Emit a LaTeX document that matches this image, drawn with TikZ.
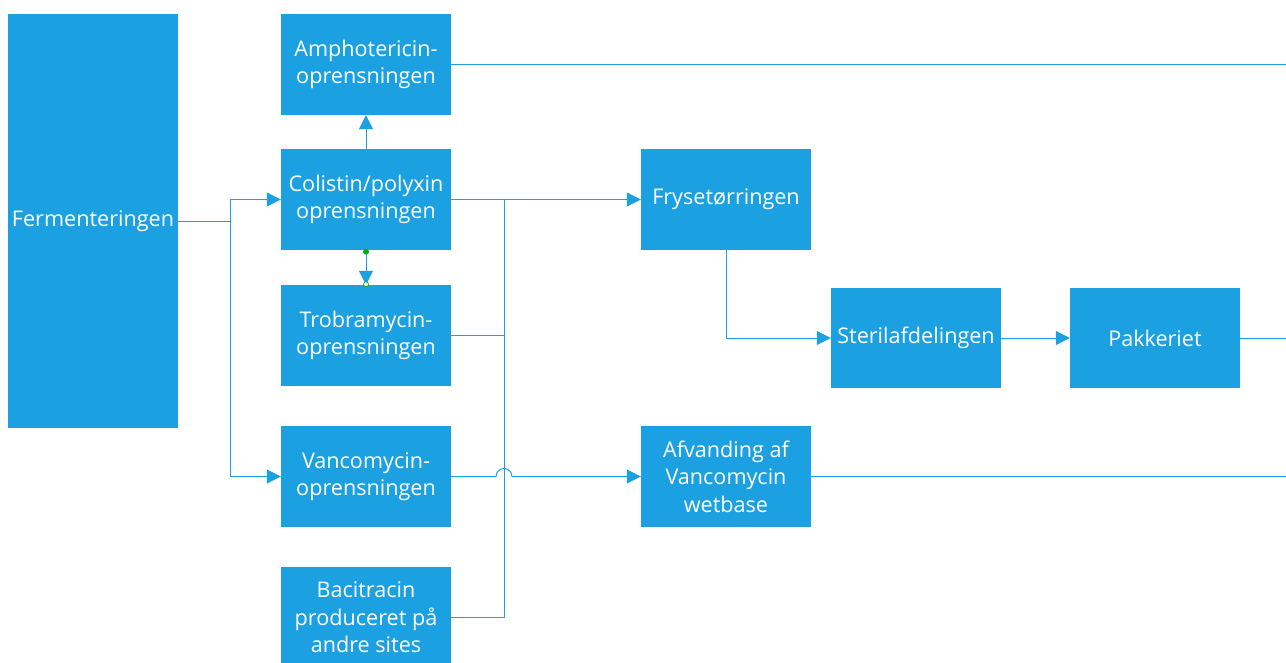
\documentclass[tikz,border=0pt]{standalone}
\usepackage{fontspec}
\setmainfont{Open Sans}
\usetikzlibrary{arrows.meta,calc}
\definecolor{metro}{RGB}{27,161,226}
\tikzset{
  box/.style={fill=metro, draw=none, text=white, align=center, minimum width=170pt, minimum height=101pt, inner sep=0pt, font=\fontsize{21.6}{27.5}\selectfont},
  conn/.style={draw=metro, line width=1pt},
  arr/.style={conn, -{Triangle[length=14pt,width=14pt]}},
}
\begin{document}
\begin{tikzpicture}[x=1pt,y=-1pt]
\useasboundingbox (0,0) rectangle (1286,662);
\node[box, minimum height=414pt] (ferm) at (93,221) {Fermenteringen};
\node[box] (amph) at (366,64.5) {Amphotericin-\\oprensningen};
\node[box] (coli) at (366,199.5) {Colistin/polyxin\\oprensningen};
\node[box] (trob) at (366,335.5) {Trobramycin-\\oprensningen};
\node[box] (vanc) at (366,476.5) {Vancomycin-\\oprensningen};
\node[box] (baci) at (366,617.5) {Bacitracin\\produceret på\\andre sites};
\node[box] (frys) at (726,199.5) {Frysetørringen};
\node[box] (afva) at (726,476.5) {Afvanding af\\Vancomycin\\wetbase};
\node[box, minimum height=100pt] (ster) at (916,338) {Sterilafdelingen};
\node[box, minimum height=100pt] (pakk) at (1155,338) {Pakkeriet};
\coordinate (j1) at (230,221);
\coordinate (j2) at (504,199.5);
\coordinate (edge) at (1286,0);
\coordinate (hopL) at (496,476.5);
% fermentation split
\draw[conn] (ferm.east) -- (j1);
\draw[arr] (j1) |- (coli.west);
\draw[arr] (j1) |- (vanc.west);
% colistin up and down
\draw[arr] (coli.north) -- (amph.south);
\draw[arr] (coli.south) -- (trob.north);
\fill[green!70!black] (coli.south) ++(0,1.5) circle (3pt);
\draw[green!60!black, fill=white, line width=0.6pt] (trob.north) ++(0,-0.5) circle (2.5pt);
% to freeze drying
\draw[arr] (coli.east) -- (frys.west);
\draw[conn] (trob.east) -| (j2);
\draw[conn] (baci.east) -| (j2);
% vancomycin with hop
\draw[arr] (vanc.east) -- (hopL) arc[start angle=180, end angle=0, radius=8pt] -- (afva.west);
% chain
\draw[arr] (frys.south) |- (ster.west);
\draw[arr] (ster.east) -- (pakk.west);
% to right edge
\draw[conn] (amph.east) -- (amph.east -| edge);
\draw[conn] (pakk.east) -- (pakk.east -| edge);
\draw[conn] (afva.east) -- (afva.east -| edge);
\end{tikzpicture}
\end{document}
